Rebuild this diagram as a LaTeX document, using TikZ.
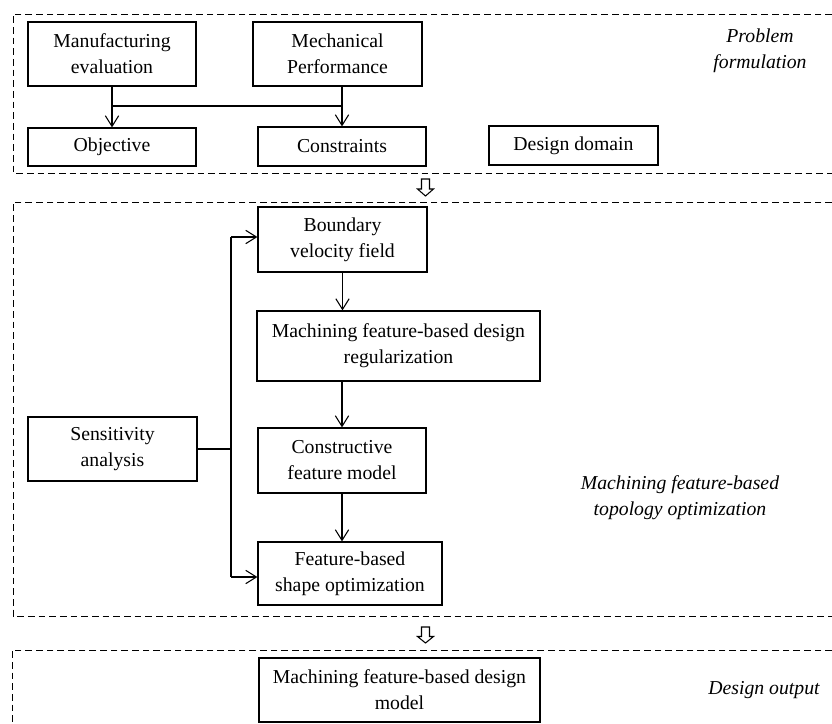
\documentclass[tikz,border=0pt]{standalone}
\usepackage{fontspec}
\setmainfont{Liberation Serif}
\usetikzlibrary{arrows.meta,calc}
\begin{document}
\begin{tikzpicture}[x=0.75pt,y=-0.75pt,
  box/.style={draw,line width=0.9pt,align=center,inner sep=0pt,
    font=\fontsize{14.8pt}{19.5pt}\selectfont},
  lbl/.style={align=center,inner sep=0pt,
    font=\fontsize{14.8pt}{19.5pt}\selectfont\itshape},
  arr/.style={line width=0.8pt,-{Straight Barb[length=8pt,width=10pt,line width=0.8pt]}},
  ln/.style={line width=0.8pt},
  frame/.style={line width=0.7pt,dash pattern=on 5pt off 3pt},
  hollow/.style={line width=0.8pt,fill=white}]
\useasboundingbox (0,0) rectangle (832,724);
% frames
\draw[frame] (832,14) -- (13,14) -- (13,173) -- (832,173);
\draw[frame] (832,202) -- (13,202) -- (13,616) -- (832,616);
\draw[frame] (832,650) -- (12,650) -- (12,724);
% problem formulation
\node[box,minimum width=168*0.75pt,minimum height=64*0.75pt] (man) at (112,54) {Manufacturing\\evaluation};
\node[box,minimum width=169*0.75pt,minimum height=64*0.75pt] (mech) at (337.5,54) {Mechanical\\Performance};
\node[box,minimum width=168*0.75pt,minimum height=38*0.75pt] (obj) at (112,147) {Objective};
\node[box,minimum width=168*0.75pt,minimum height=39*0.75pt] (con) at (342,146.5) {Constraints};
\node[box,minimum width=169*0.75pt,minimum height=39*0.75pt] (dom) at (573.5,145.5) {Design domain};
\node[lbl] (pf) at (760,51) {Problem\\formulation};
\coordinate (j1) at (man.south |- 0,106);
\coordinate (j2) at (con.north |- 0,106);
\draw[arr] (man.south) -- (man.south |- obj.north);
\draw[ln] (j1) -- (j2);
\draw[arr] (mech.south -| con.north) -- (con.north);
% hollow arrow 1
\draw[hollow] (421.5,179) -- (429.5,179) -- (429.5,189) -- (433.5,189) -- (425.5,196) -- (417.5,189) -- (421.5,189) -- cycle;
% topology optimization
\node[box,minimum width=169*0.75pt,minimum height=65*0.75pt] (bvf) at (342.5,239.5) {Boundary\\velocity field};
\node[box,minimum width=283*0.75pt,minimum height=70*0.75pt] (reg) at (398.5,346) {Machining feature-based design\\regularization};
\node[box,minimum width=168*0.75pt,minimum height=65*0.75pt] (cfm) at (342,460.5) {Constructive\\feature model};
\node[box,minimum width=184*0.75pt,minimum height=63*0.75pt] (fso) at (350,573.5) {Feature-based\\shape optimization};
\node[box,minimum width=169*0.75pt,minimum height=64*0.75pt] (sen) at (112.5,449) {Sensitivity\\analysis};
\node[lbl] (mt) at (680,498) {Machining feature-based\\topology optimization};
\draw[arr] (bvf.south) -- (bvf.south |- reg.north);
\draw[arr] (cfm.north |- reg.south) -- (cfm.north);
\draw[arr] (cfm.south) -- (cfm.south |- fso.north);
\coordinate (fb) at (231,449);
\draw[ln] (sen.east) -- (fb);
\draw[arr] (fb |- bvf.west) ++(0,-2.5) coordinate (fbt) -- (fbt -| bvf.west);
\draw[ln] (fbt) -- (fb |- 0,577);
\draw[arr] (fb |- 0,577) -- (bvf.west |- 0,577);
% hollow arrow 2
\draw[hollow] (421.5,627) -- (429.5,627) -- (429.5,636.5) -- (433.5,636.5) -- (425.5,643) -- (417.5,636.5) -- (421.5,636.5) -- cycle;
% design output
\node[box,minimum width=281*0.75pt,minimum height=64*0.75pt] (out) at (399.5,690) {Machining feature-based design\\model};
\node[lbl] (dout) at (764,690) {Design output};
\end{tikzpicture}
\end{document}
